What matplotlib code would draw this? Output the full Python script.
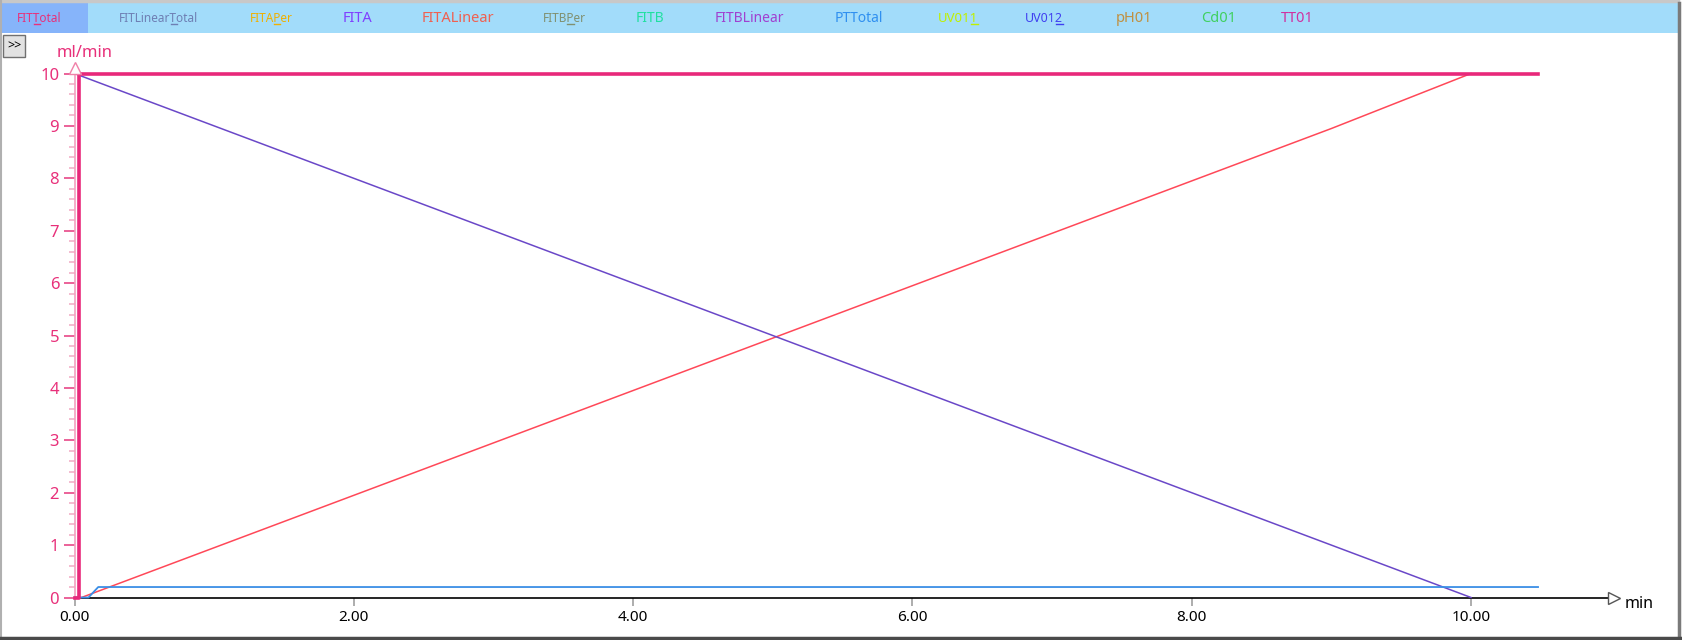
import matplotlib
matplotlib.use("Agg")
import matplotlib.pyplot as plt
from matplotlib.patches import Rectangle
from matplotlib.ticker import MultipleLocator, FormatStrFormatter

plt.rcParams['font.family'] = ['Noto Sans', 'DejaVu Sans']

# channel buttons in the top bar
channels = ["FITTotal", "FITLinearTotal", "FITAPer", "FITA", "FITALinear",
            "FITBPer", "FITB", "FITBLinear", "PTTotal", "UV011", "UV012",
            "pH01", "Cd01", "TT01"]
# index of the underlined hotkey letter (None = no underline)
channel_hotkey = [3, 9, 4, None, None, 4, None, None, None, 4, 4, None, None, None]
channel_colors = ["#E8307A", "#6E7FB4", "#F0B000", "#8040FF", "#F06050",
                  "#809070", "#20E0A0", "#A040D0", "#3090F0", "#C0F000", "#4040F0",
                  "#C09040", "#40D060", "#D030A0"]
channel_sizes = [8.5, 8.5, 8.5, 10.5, 10.5, 8.5, 10, 10, 10, 9.5, 9, 10.5, 10.5, 10.5]
channel_x = [39, 159, 271, 358, 458, 564, 650, 749, 859, 958, 1044, 1134, 1219, 1297]

# curves (time in min, flow in ml/min)
fit_total_t = [0, 0.03, 0.03, 10.48]
fit_total_v = [0, 0, 10, 10]
fita_linear_t = [0, 0.05, 1, 2, 3, 4, 5, 6, 7, 8, 9, 10]
fita_linear_v = [0, 0, 0.95, 1.95, 2.95, 3.95, 4.95, 5.95, 6.95, 7.95, 8.95, 10]
fitb_linear_t = [0, 1, 2, 3, 4, 5, 6, 7, 8, 9, 10]
fitb_linear_v = [10, 9, 8, 7, 6, 5, 4, 3, 2, 1, 0]
pt_total_t = [0, 0.1, 0.17, 10.48]
pt_total_v = [0, 0, 0.2, 0.2]

W, H = 1682, 640
fig = plt.figure(figsize=(W / 100, H / 100), dpi=100)
fig.patch.set_facecolor("white")
renderer = fig.canvas.get_renderer()


def fx(px):
    return px / W


def fy(py):
    return 1 - py / H


# top bar
fig.patches.append(Rectangle((fx(2), fy(33)), fx(1676), 30 / H, transform=fig.transFigure,
                             facecolor="#A2DCFA", edgecolor="none"))
fig.patches.append(Rectangle((fx(2), fy(33)), fx(86), 30 / H, transform=fig.transFigure,
                             facecolor="#86B4FA", edgecolor="none"))
for name, key, c, s, x in zip(channels, channel_hotkey, channel_colors, channel_sizes, channel_x):
    t = fig.text(fx(x), fy(18), name, color=c, fontsize=s, ha="center", va="center")
    if key is None:
        continue
    bb = t.get_window_extent(renderer)
    # measure prefix widths to place the underline below the hotkey letter
    tmp = fig.text(0, 0, name[:key], fontsize=s)
    w0 = tmp.get_window_extent(renderer).width if key > 0 else 0
    tmp.set_text(name[:key + 1])
    w1 = tmp.get_window_extent(renderer).width
    tmp.remove()
    uy = (bb.y0 + 1) / H
    fig.add_artist(plt.Line2D([(bb.x0 + w0 + 0.5) / W, (bb.x0 + w1 - 0.5) / W], [uy, uy],
                              color=c, lw=1))

# ">>" button
fig.patches.append(Rectangle((fx(3), fy(57)), fx(22), 22 / H, transform=fig.transFigure,
                             facecolor="#E2E2E2", edgecolor="#707070", lw=1))
fig.text(fx(14), fy(46), ">>", fontsize=9, ha="center", va="center", color="black")

# window frame
fig.add_artist(plt.Line2D([fx(1), fx(1678)], [fy(1), fy(1)], color="#C8C8C8", lw=2.5))
fig.add_artist(plt.Line2D([fx(1), fx(1)], [fy(1), fy(638)], color="#B0B0B0", lw=1.5))
fig.add_artist(plt.Line2D([fx(1679), fx(1679)], [fy(3), fy(638)], color="#7A7A7A", lw=2.5))
fig.add_artist(plt.Line2D([fx(1), fx(1680)], [fy(638), fy(638)], color="#4A4A4A", lw=2.5))

# plot area: x0 at 74.5px, 139.65 px/min; y0 at 597.5px, 52.4 px per ml/min
left, right, bottom, top = 74.5, 1614, 597.5, 68
ax = fig.add_axes([fx(left), fy(bottom), fx(right - left), (bottom - top) / H])
ax.set_xlim(0, (right - left) / 139.65)
ax.set_ylim(0, (bottom - top) / 52.4)
ax.set_facecolor("none")

ax.plot(fita_linear_t, fita_linear_v, color="#FF4858", lw=1.1, clip_on=False, zorder=3)
ax.plot(fitb_linear_t, fitb_linear_v, color="#6A48C8", lw=1.1, clip_on=False, zorder=3)
ax.plot(pt_total_t, pt_total_v, color="#3A8EE6", lw=1.3, clip_on=False, zorder=3)
ax.plot(fit_total_t, fit_total_v, color="#E8287A", lw=2.6, clip_on=False, zorder=4)

for side in ("top", "right"):
    ax.spines[side].set_visible(False)
ax.spines["left"].set_color("#F4A0C0")
ax.spines["left"].set_linewidth(1.2)
ax.spines["bottom"].set_color("black")
ax.spines["bottom"].set_linewidth(1.2)

ax.set_xticks([0, 2, 4, 6, 8, 10])
ax.xaxis.set_major_formatter(FormatStrFormatter("%.2f"))
ax.tick_params(axis="x", direction="out", length=6, width=1.2, color="#A0A0A0",
               labelsize=11, labelcolor="black", pad=3)

ax.set_yticks(range(0, 11))
ax.yaxis.set_minor_locator(MultipleLocator(0.2))
ax.tick_params(axis="y", which="major", direction="out", length=8, width=1.2,
               color="#E84888", labelsize=12, labelcolor="#E8307A", pad=3)
ax.tick_params(axis="y", which="minor", direction="out", length=4.5, width=1.2,
               color="#F2B0C8")

# axis arrows
ax.plot(1, 0, marker=">", ms=9, mfc="white", mec="#555555", mew=1,
        transform=ax.transAxes, clip_on=False, zorder=5)
ax.plot(0, 1, marker="^", ms=8, mfc="white", mec="#F080A8", mew=1,
        transform=ax.transAxes, clip_on=False, zorder=5)

fig.text(fx(1625), fy(604), "min", fontsize=11.5, color="black", ha="left", va="center")
fig.text(fx(57), fy(53), "ml/min", fontsize=12, color="#E8307A", ha="left", va="center")

fig.savefig("out.png", dpi=100)
